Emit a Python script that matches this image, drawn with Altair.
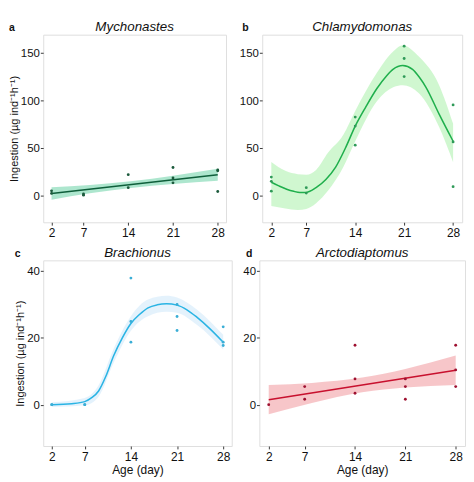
import altair as alt
import pandas as pd

# ---------------- data ----------------
ticks_x = [2, 7, 14, 21, 28]

# a  Mychonastes
a_pt_day = [2, 2, 7, 7, 14, 14, 21, 21, 21, 28, 28, 28]
a_pt_val = [5, 2.3, 1.7, 0.5, 22, 8.4, 29.5, 18.5, 13.4, 26.9, 26, 4.3]
a_fit_day = [2, 28]
a_fit_val = [2.3, 21.9]
a_band_day = [2, 8, 14.4, 21, 28]
a_band_lo = [-4.3, 2.5, 8.1, 12.3, 15.6]
a_band_hi = [8.9, 11.1, 15.1, 20.9, 28.2]

# b  Chlamydomonas
b_pt_day = [2, 2, 2, 7, 7, 14, 14, 14, 21, 21, 21, 28, 28, 28]
b_pt_val = [19.5, 15, 4.7, 8.4, 2.7, 82.5, 73, 53, 157, 144, 125, 95.3, 56.4, 9.4]
b_fit_day = [2, 3, 4.2, 5.2, 6.1, 7, 8.4, 9.8, 11.2, 12.6, 14, 15.5, 17.1, 18.5, 19.4,
             20.8, 22.2, 23.2, 24.1, 26, 28]
b_fit_val = [14, 10.5, 6.7, 4.5, 3.3, 3.4, 8.4, 17, 30, 50, 73, 93, 112.5, 126, 132.6,
             136.6, 132.6, 124, 114, 85.6, 57.1]
b_band_day = [2, 4, 5.8, 7, 8.4, 10.1, 12.3, 14, 17.1, 19.5, 20.8, 23.1, 26, 28]
b_band_lo = [-11, -13.5, -15, -14, -8, 5, 30, 57, 99, 114, 116, 107.5, 72, 35]
b_band_hi = [35.2, 26, 22.5, 22, 27, 45, 64, 89, 129, 152, 158, 146, 116, 75.5]

# c  Brachionus
c_pt_day = [2, 2, 7, 7, 14, 14, 14, 21, 21, 21, 28, 28, 28]
c_pt_val = [0, 0, 0, 0, 37.9, 24.9, 18.7, 30, 26.4, 22.2, 23.3, 18.7, 17.7]
c_fit_day = [2, 5, 7, 8, 9.1, 10.2, 11.4, 12.7, 14, 15.3, 16.6, 18, 19.4, 21, 22.5, 24, 26, 28]
c_fit_val = [0, 0.3, 0.9, 2, 4.1, 8.5, 14.7, 20, 24.3, 27, 29, 29.9, 30.2, 29.8, 28.4, 26.2, 22.7, 18.7]
c_band_day = [2, 7, 9.1, 11.4, 14, 16.6, 19.4, 21, 24, 28]
c_band_lo = [-0.7, -0.2, 2.4, 12.6, 22.1, 26.5, 27.8, 27.5, 23.9, 16.5]
c_band_hi = [0.7, 2.0, 5.8, 16.8, 26.5, 31.5, 32.6, 32.1, 28.5, 20.9]

# d  Arctodiaptomus
d_pt_day = [2, 7, 7, 14, 14, 14, 21, 21, 21, 28, 28, 28]
d_pt_val = [0, 5.4, 1.6, 17.8, 7.7, 3.4, 7.7, 5.4, 1.6, 17.8, 10.4, 5.4]
d_fit_day = [2, 28]
d_fit_val = [1.5, 10.3]
d_band_day = [2, 8, 15, 21, 28]
d_band_lo = [-2.9, 0.5, 3.7, 5.1, 5.9]
d_band_hi = [5.9, 6.5, 8.1, 10.7, 14.7]

titles = ["Mychonastes", "Chlamydomonas", "Brachionus", "Arctodiaptomus"]
letters = ["a", "b", "c", "d"]
y_title = "Ingestion (µg ind⁻¹h⁻¹)"
x_title = "Age (day)"

FONT = "Liberation Sans"


def panel(title, letter, pd_, pv, fd, fv, bd, blo, bhi, line_col, band_col, pt_col,
          ydom, yvals, w, h, ytitle, xtitle, letter_x):
    xs = alt.Scale(domain=[0.7, 29.3], nice=False, zero=False)
    ys = alt.Scale(domain=ydom, nice=False, zero=False)
    xax = alt.Axis(values=ticks_x, title=xtitle if xtitle else None, grid=False, domain=False,
                   tickColor="#333", tickSize=3, labelPadding=2, labelFontSize=12.5,
                   labelColor="#111", titleFontSize=12.5, titleFontWeight="normal",
                   titleColor="#111", titlePadding=1, labelFont=FONT, titleFont=FONT)
    yax = alt.Axis(values=yvals, title=ytitle if ytitle else None, grid=False, domain=False,
                   tickColor="#333", tickSize=3, labelPadding=1, labelFontSize=12,
                   labelColor="#111", titleFontSize=11.5, titleFontWeight="normal",
                   titleColor="#111", titlePadding=1, labelFont=FONT, titleFont=FONT)
    band = alt.Chart(pd.DataFrame({"day": bd, "lo": blo, "hi": bhi})).mark_area(
        color=band_col, opacity=0.85, interpolate="monotone").encode(
        x=alt.X("day:Q", scale=xs, axis=xax),
        y=alt.Y("lo:Q", scale=ys, axis=yax),
        y2="hi:Q")
    line = alt.Chart(pd.DataFrame({"day": fd, "v": fv})).mark_line(
        color=line_col, strokeWidth=1.6, interpolate="monotone").encode(
        x=alt.X("day:Q", scale=xs), y=alt.Y("v:Q", scale=ys))
    pts = alt.Chart(pd.DataFrame({"day": pd_, "v": pv})).mark_circle(
        color=pt_col, size=9, opacity=1).encode(
        x=alt.X("day:Q", scale=xs), y=alt.Y("v:Q", scale=ys))
    lab = alt.Chart(pd.DataFrame({"t": [letter]})).mark_text(
        font=FONT, fontWeight="bold", fontSize=11, color="#111", align="left",
        baseline="alphabetic").encode(
        x=alt.value(letter_x), y=alt.value(-4), text="t:N")
    ttl = alt.Chart(pd.DataFrame({"t": [title]})).mark_text(
        font=FONT, fontStyle="italic", fontSize=14, color="#111", align="center",
        baseline="alphabetic").encode(
        x=alt.value(w / 2), y=alt.value(-4), text="t:N")
    return alt.layer(band, line, pts, lab, ttl).properties(width=w, height=h)


pa = panel(titles[0], letters[0], a_pt_day, a_pt_val, a_fit_day, a_fit_val, a_band_day,
           a_band_lo, a_band_hi, "#0f5f3b", "#9fe2c6", "#1c5a3c",
           [-28, 169], [0, 50, 100, 150], 192, 197, y_title, None, -36)
pb = panel(titles[1], letters[1], b_pt_day, b_pt_val, b_fit_day, b_fit_val, b_band_day,
           b_band_lo, b_band_hi, "#1faf4c", "#c8f6c8", "#2f9a58",
           [-28, 169], [0, 50, 100, 150], 210, 197, None, None, -21)
pc = panel(titles[2], letters[2], c_pt_day, c_pt_val, c_fit_day, c_fit_val, c_band_day,
           c_band_lo, c_band_hi, "#2ab4e4", "#dff0fb", "#3aaed6",
           [-12.4, 43.2], [0, 20, 40], 198, 195, y_title, x_title, -30)
pdd = panel(titles[3], letters[3], d_pt_day, d_pt_val, d_fit_day, d_fit_val, d_band_day,
            d_band_lo, d_band_hi, "#c8102e", "#f6bcc0", "#9e1030",
            [-12.4, 43.2], [0, 20, 40], 216, 195, None, x_title, -14)

row1 = alt.hconcat(pa, pb, spacing=12)
row2 = alt.hconcat(pc, pdd, spacing=10)
chart = alt.vconcat(row1, row2, spacing=6).properties(padding=0).configure_view(
    stroke="#333", strokeWidth=1.2, fill="white").configure(background="white")

chart.save("out.html", embed_options={"renderer": "svg", "actions": False})
